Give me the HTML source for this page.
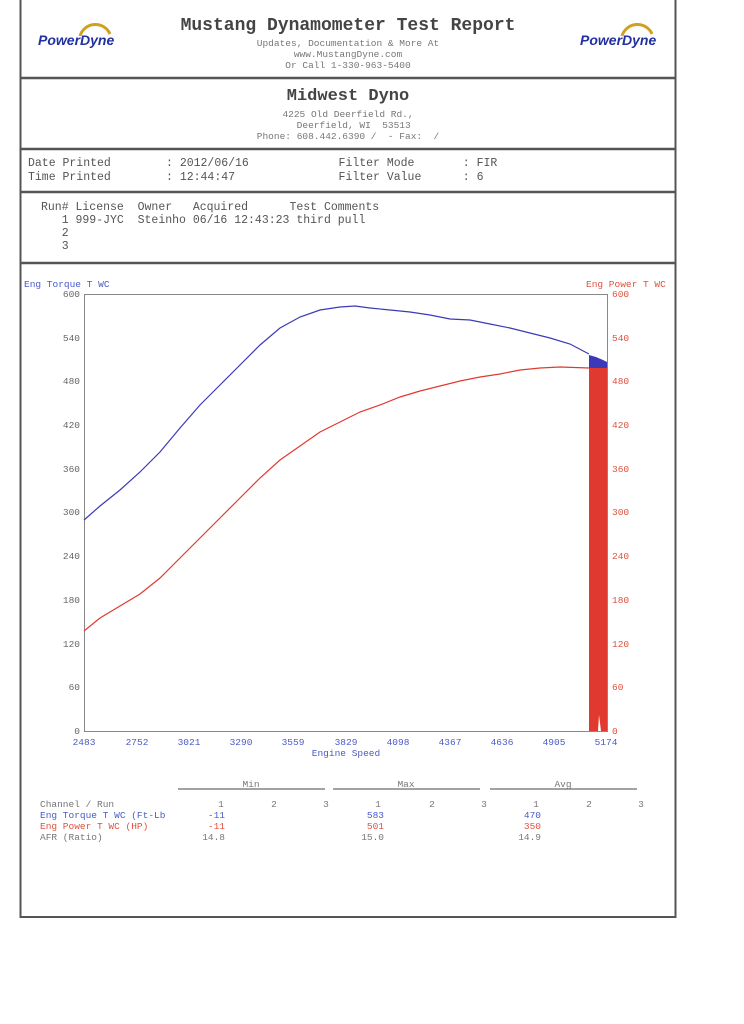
<!DOCTYPE html>
<html><head><meta charset="utf-8"><style>
body{margin:0;background:#fff;width:744px;height:1024px;overflow:hidden;font-family:"Liberation Mono",monospace;}
.t{position:absolute;white-space:pre;color:#555;}
svg text{font-family:"Liberation Mono",monospace;font-size:9.5px;}
</style></head><body>
<svg width="744" height="1024" style="position:absolute;left:0;top:0">
<rect x="20.5" y="-2" width="655" height="919" fill="none" stroke="#555" stroke-width="2"/>
<g stroke="#555" stroke-width="2.5">
<line x1="20" y1="78" x2="676" y2="78"/><line x1="20" y1="149" x2="676" y2="149"/>
<line x1="20" y1="192" x2="676" y2="192"/><line x1="20" y1="263" x2="676" y2="263"/></g>
<rect x="84.5" y="294.5" width="523" height="437" fill="none" stroke="#888"/>
<polygon points="589,355 596,357 603,360 607,362 607,370 589,370" fill="#3a3ab8"/>
<polygon points="589,368 607,368 607,731 601,731 599,715 598,731 589,731" fill="#e03a30"/>
<polyline fill="none" stroke="#3a3ab8" stroke-width="1.2" points="84,520 100,506 120,490 140,472 160,452 180,428 200,405 220,385 240,365 260,345 280,328 300,317 320,310 340,307 355,306 370,308 390,310 410,312 430,315 450,319 470,320 490,324 510,328 530,333 550,338 570,344 589,354"/>
<polyline fill="none" stroke="#e03a30" stroke-width="1.2" points="84,631 100,618 120,606 140,594 160,578 180,558 200,538 220,518 240,498 260,478 280,460 300,446 320,432 340,422 360,412 380,405 400,397 420,391 440,386 460,381 480,377 500,374 520,370 540,368 560,367 589,368"/>
<g stroke="#444"><line x1="178" y1="789" x2="325" y2="789"/><line x1="333" y1="789" x2="480" y2="789"/><line x1="490" y1="789" x2="637" y2="789"/></g>
<text x="38" y="45" font-family="Liberation Sans" font-weight="bold" font-style="italic" style="font-family:'Liberation Sans';font-size:14px" fill="#2230a0">PowerDyne</text>
<text x="580" y="45" style="font-family:'Liberation Sans';font-size:14px" font-weight="bold" font-style="italic" fill="#2230a0">PowerDyne</text>
<path d="M80 36 A16 16 0 0 1 110 34" stroke="#d0a020" stroke-width="3" fill="none"/>
<path d="M622 36 A16 16 0 0 1 652 34" stroke="#d0a020" stroke-width="3" fill="none"/>
<g fill="#666" text-anchor="end">
<text x="80" y="297">600</text><text x="80" y="341">540</text><text x="80" y="384">480</text><text x="80" y="428">420</text><text x="80" y="472">360</text><text x="80" y="515">300</text><text x="80" y="559">240</text><text x="80" y="603">180</text><text x="80" y="647">120</text><text x="80" y="690">60</text><text x="80" y="734">0</text></g>
<g fill="#e05040">
<text x="612" y="297">600</text><text x="612" y="341">540</text><text x="612" y="384">480</text><text x="612" y="428">420</text><text x="612" y="472">360</text><text x="612" y="515">300</text><text x="612" y="559">240</text><text x="612" y="603">180</text><text x="612" y="647">120</text><text x="612" y="690">60</text><text x="612" y="734">0</text></g>
<g fill="#4a5ac8" text-anchor="middle">
<text x="84" y="745">2483</text><text x="137" y="745">2752</text><text x="189" y="745">3021</text><text x="241" y="745">3290</text><text x="293" y="745">3559</text><text x="346" y="745">3829</text><text x="398" y="745">4098</text><text x="450" y="745">4367</text><text x="502" y="745">4636</text><text x="554" y="745">4905</text><text x="606" y="745">5174</text>
<text x="346" y="756">Engine Speed</text></g>
<g fill="#777" text-anchor="middle">
<text x="251" y="787">Min</text><text x="406" y="787">Max</text><text x="563" y="787">Avg</text>
<text x="221" y="807">1</text><text x="274" y="807">2</text><text x="326" y="807">3</text>
<text x="378" y="807">1</text><text x="432" y="807">2</text><text x="484" y="807">3</text>
<text x="536" y="807">1</text><text x="589" y="807">2</text><text x="641" y="807">3</text></g>
<g text-anchor="end">
<text x="225" y="818" fill="#4a5ac8">-11</text><text x="384" y="818" fill="#4a5ac8">583</text><text x="541" y="818" fill="#4a5ac8">470</text>
<text x="225" y="829" fill="#e05040">-11</text><text x="384" y="829" fill="#e05040">501</text><text x="541" y="829" fill="#e05040">350</text>
<text x="225" y="840" fill="#777">14.8</text><text x="384" y="840" fill="#777">15.0</text><text x="541" y="840" fill="#777">14.9</text></g>
<text x="40" y="807" fill="#777">Channel / Run</text>
<text x="40" y="818" fill="#4a5ac8">Eng Torque T WC (Ft-Lb</text>
<text x="40" y="829" fill="#e05040">Eng Power T WC (HP)</text>
<text x="40" y="840" fill="#777">AFR (Ratio)</text>
<text x="24" y="287" fill="#4a5ac8">Eng Torque T WC</text>
<text x="586" y="287" fill="#e05040">Eng Power T WC</text>
</svg>
<div class="t" style="left:0;width:696px;text-align:center;top:16px;font-size:18px;font-weight:bold;color:#444">Mustang Dynamometer Test Report</div>
<div class="t" style="left:0;width:696px;text-align:center;top:38px;font-size:9.5px;line-height:11px;color:#777">Updates, Documentation &amp; More At
www.MustangDyne.com
Or Call 1-330-963-5400</div>
<div class="t" style="left:0;width:696px;text-align:center;top:87px;font-size:17px;font-weight:bold;color:#444">Midwest Dyno</div>
<div class="t" style="left:0;width:696px;text-align:center;top:109px;font-size:9.5px;line-height:11px;color:#777">4225 Old Deerfield Rd.,
  Deerfield, WI  53513
Phone: 608.442.6390 /  - Fax:  /</div>
<div class="t" style="left:28px;top:157px;font-size:11.5px;line-height:13.5px">Date Printed        : 2012/06/16             Filter Mode       : FIR
Time Printed        : 12:44:47               Filter Value      : 6</div>
<div class="t" style="left:41px;top:201px;font-size:11.5px;line-height:13px">Run# License  Owner   Acquired      Test Comments
   1 999-JYC  Steinho 06/16 12:43:23 third pull
   2
   3</div>
</body></html>
